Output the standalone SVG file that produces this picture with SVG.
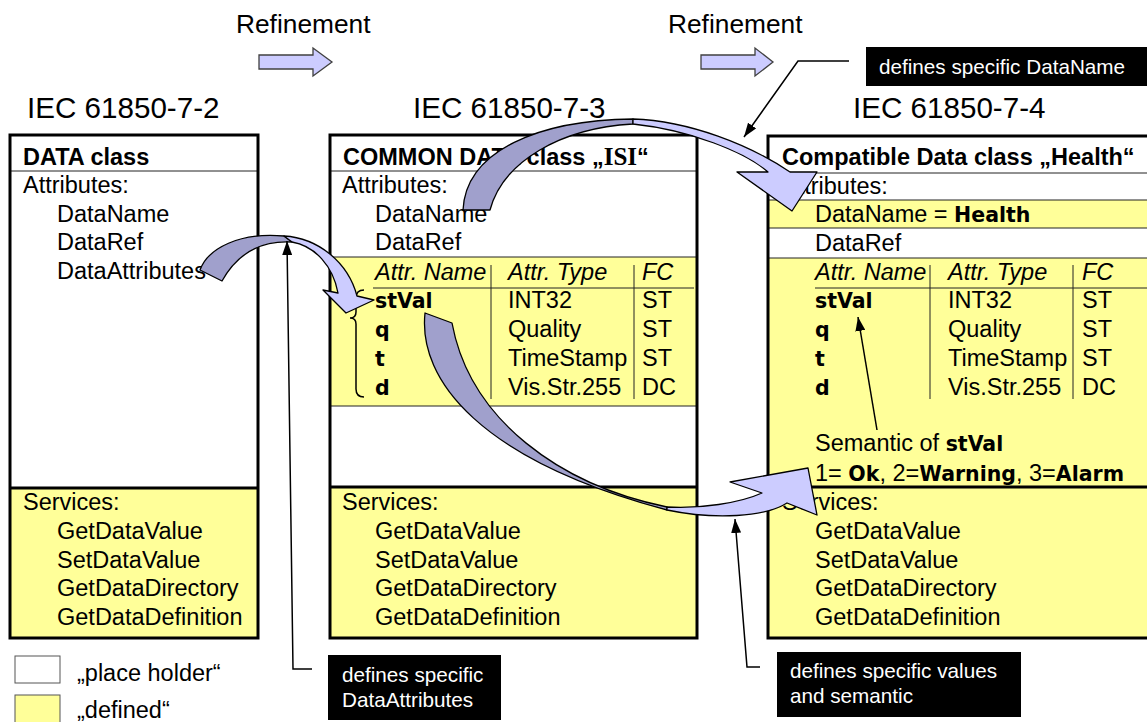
<svg xmlns="http://www.w3.org/2000/svg" width="1147" height="722" viewBox="0 0 1147 722">
<defs>
<style>
text{font-family:"Liberation Sans",Arial,sans-serif;font-size:23.5px;fill:#000}
.b{font-weight:bold}
.v{font-family:"DejaVu Sans",Verdana,sans-serif;font-weight:bold;font-size:20.5px}
.it{font-style:italic}
.h{font-size:29.6px}
.r{font-size:26.3px}
.n{font-size:20.7px;fill:#fff}
.sr{font-family:"Liberation Serif","Times New Roman",serif;font-weight:bold;font-size:25px}
.frame{fill:none;stroke:#000;stroke-width:3}
.thick{stroke:#000;stroke-width:3}
.thin{stroke:#222;stroke-width:1}
.yel{fill:#FFFF99}
.wh{fill:#fff}
.lead{fill:none;stroke:#000;stroke-width:1.5}
.dark{fill:#A0A0CC;stroke:#000;stroke-width:1.3;stroke-linejoin:round}
.light{fill:#CCCCFF;stroke:#000;stroke-width:1.3;stroke-linejoin:round}
.ref{fill:#CCCCFF;stroke:#404040;stroke-width:1.3}
.lg{stroke:#555;stroke-width:1}
</style>
<marker id="ah" markerUnits="userSpaceOnUse" markerWidth="14" markerHeight="10" refX="14" refY="5" orient="auto"><path d="M0,0 L14,5 L0,10 Z" fill="#000"/></marker>
</defs>

<g id="titles">
<text class="r" x="236" y="33">Refinement</text>
<text class="r" x="668" y="33">Refinement</text>
<text class="h" x="27" y="118">IEC 61850-7-2</text>
<text class="h" x="413" y="118">IEC 61850-7-3</text>
<text class="h" x="853" y="118">IEC 61850-7-4</text>
</g>

<g id="refinement-arrows">
<polygon class="ref" points="259,55 313,55 313,48 332,62 313,76 313,69 259,69"/>
<polygon class="ref" points="701,55 755,55 755,48 773,62 755,76 755,69 701,69"/>
</g>

<g id="box-7-2">
<rect class="wh" x="10" y="135" width="248" height="503"/>
<rect class="yel" x="10" y="488" width="248" height="150"/>
<line class="thin" x1="11" y1="171" x2="257" y2="171"/>
<line class="thick" x1="10" y1="488" x2="258" y2="488"/>
<rect class="frame" x="10" y="135" width="248" height="503"/>
<text class="b" x="23" y="165">DATA class</text>
<text x="23" y="193">Attributes:</text>
<text x="57" y="222">DataName</text>
<text x="57" y="250">DataRef</text>
<text x="57" y="279">DataAttributes</text>
<text x="23" y="510">Services:</text>
<text x="57" y="539">GetDataValue</text>
<text x="57" y="568">SetDataValue</text>
<text x="57" y="596">GetDataDirectory</text>
<text x="57" y="625">GetDataDefinition</text>
</g>

<g id="box-7-3">
<rect class="wh" x="330" y="135" width="367" height="503"/>
<rect class="yel" x="330" y="257" width="367" height="149"/>
<rect class="yel" x="330" y="487" width="367" height="151"/>
<line class="thin" x1="331" y1="171" x2="696" y2="171"/>
<line class="thin" x1="331" y1="257" x2="696" y2="257"/>
<line class="thin" x1="331" y1="406" x2="696" y2="406"/>
<line class="thick" x1="330" y1="487" x2="697" y2="487"/>
<line class="thin" x1="373" y1="288" x2="694" y2="288"/>
<line class="thin" x1="491" y1="265" x2="491" y2="399"/>
<line class="thin" x1="634" y1="265" x2="634" y2="399"/>
<rect class="frame" x="330" y="135" width="367" height="503"/>
<text class="b" x="343" y="165">COMMON DATA class „<tspan class="sr">ISI</tspan>“</text>
<text x="342" y="193">Attributes:</text>
<text x="375" y="222">DataName</text>
<text x="375" y="250">DataRef</text>
<text class="it" x="375" y="280">Attr. Name</text>
<text class="it" x="508" y="280">Attr. Type</text>
<text class="it" x="642" y="280">FC</text>
<text class="v" x="375" y="308">stVal</text>
<text class="v" x="375" y="337">q</text>
<text class="v" x="375" y="366">t</text>
<text class="v" x="375" y="395">d</text>
<text x="508" y="308">INT32</text>
<text x="508" y="337">Quality</text>
<text x="508" y="366">TimeStamp</text>
<text x="508" y="395">Vis.Str.255</text>
<text x="642" y="308">ST</text>
<text x="642" y="337">ST</text>
<text x="642" y="366">ST</text>
<text x="642" y="395">DC</text>
<path d="M364,290 Q356,290 356,298 L356,312 Q356,318 350,318 Q356,318 356,324 L356,389 Q356,397 364,397" fill="none" stroke="#000" stroke-width="1.5"/>
<text x="342" y="510">Services:</text>
<text x="375" y="539">GetDataValue</text>
<text x="375" y="568">SetDataValue</text>
<text x="375" y="596">GetDataDirectory</text>
<text x="375" y="625">GetDataDefinition</text>
</g>

<g id="box-7-4">
<rect class="wh" x="768" y="136" width="385" height="502"/>
<rect class="yel" x="768" y="200" width="385" height="28"/>
<rect class="yel" x="768" y="258" width="385" height="380"/>
<line class="thin" x1="769" y1="173" x2="1147" y2="173"/>
<line class="thin" x1="769" y1="200" x2="1147" y2="200"/>
<line class="thin" x1="769" y1="228" x2="1147" y2="228"/>
<line class="thin" x1="769" y1="258" x2="1147" y2="258"/>
<line class="thick" x1="768" y1="487" x2="1147" y2="487"/>
<line class="thin" x1="815" y1="288" x2="1147" y2="288"/>
<line class="thin" x1="930" y1="265" x2="930" y2="399"/>
<line class="thin" x1="1073" y1="265" x2="1073" y2="399"/>
<rect class="frame" x="768" y="136" width="385" height="502"/>
<text class="b" x="782" y="165">Compatible Data class „Health“</text>
<text x="782" y="194">Attributes:</text>
<text x="815" y="222">DataName = <tspan class="v">Health</tspan></text>
<text x="815" y="251">DataRef</text>
<text class="it" x="815" y="280">Attr. Name</text>
<text class="it" x="948" y="280">Attr. Type</text>
<text class="it" x="1082" y="280">FC</text>
<text class="v" x="815" y="308">stVal</text>
<text class="v" x="815" y="337">q</text>
<text class="v" x="815" y="366">t</text>
<text class="v" x="815" y="395">d</text>
<text x="948" y="308">INT32</text>
<text x="948" y="337">Quality</text>
<text x="948" y="366">TimeStamp</text>
<text x="948" y="395">Vis.Str.255</text>
<text x="1082" y="308">ST</text>
<text x="1082" y="337">ST</text>
<text x="1082" y="366">ST</text>
<text x="1082" y="395">DC</text>
<text x="815" y="451">Semantic of <tspan class="v">stVal</tspan></text>
<text x="815" y="481">1= <tspan class="v">Ok</tspan>, 2=<tspan class="v">Warning</tspan>, 3=<tspan class="v">Alarm</tspan></text>
<text x="782" y="510">Services:</text>
<text x="815" y="539">GetDataValue</text>
<text x="815" y="568">SetDataValue</text>
<text x="815" y="596">GetDataDirectory</text>
<text x="815" y="625">GetDataDefinition</text>
</g>

<g id="legend">
<rect class="wh lg" x="15" y="656" width="45" height="27"/>
<rect class="yel lg" x="15" y="695" width="45" height="32"/>
<text x="77" y="681">„place holder“</text>
<text x="77" y="718">„defined“</text>
</g>

<g id="note-dataname">
<rect x="866" y="47" width="285" height="39" fill="#000"/>
<text class="n" x="879" y="74">defines specific DataName</text>
</g>
<g id="note-dataattributes">
<rect x="328" y="655" width="173" height="65" fill="#000"/>
<text class="n" x="342" y="682">defines specific</text>
<text class="n" x="342" y="707">DataAttributes</text>
</g>
<g id="note-values">
<rect x="777" y="652" width="244" height="65" fill="#000"/>
<text class="n" x="790" y="678">defines specific values</text>
<text class="n" x="790" y="703">and semantic</text>
</g>

<g id="connectors">
<path class="dark" d="M200,270 C208,248 240,232 284,236 L292,242 C258,240 236,256 222,281 Z"/>
<path class="light" d="M284,236 C318,238 348,262 357,296 L374,300 L346,313 L323,290 L338,293 C333,266 315,246 292,242 Z"/>
<path class="dark" d="M463,210 C466,150 540,120 633,119 L633,124 C560,128 503,162 490,210 Z"/>
<path class="light" d="M633,119 C690,121 750,145 790,172 L817,172 L792,211 L737,172 L768,172 C745,152 690,130 633,124 Z"/>
<path class="dark" d="M425,313 L452,323 C470,420 560,485 667,507 L667,510 C480,460 418,380 425,313 Z"/>
<path class="light" d="M667,507 C700,509 740,503 762,493 L730,482 L808,468 L817,515 L787,503 C765,517 715,520 667,510 Z"/>
<polyline class="lead" points="312,669 293,669 287,241" marker-end="url(#ah)"/>
<polyline class="lead" points="849,61 798,61 744,137" marker-end="url(#ah)"/>
<polyline class="lead" points="760,667 747,667 735,519" marker-end="url(#ah)"/>
<line class="lead" x1="877" y1="430" x2="858" y2="317" marker-end="url(#ah)"/>
</g>
</svg>
